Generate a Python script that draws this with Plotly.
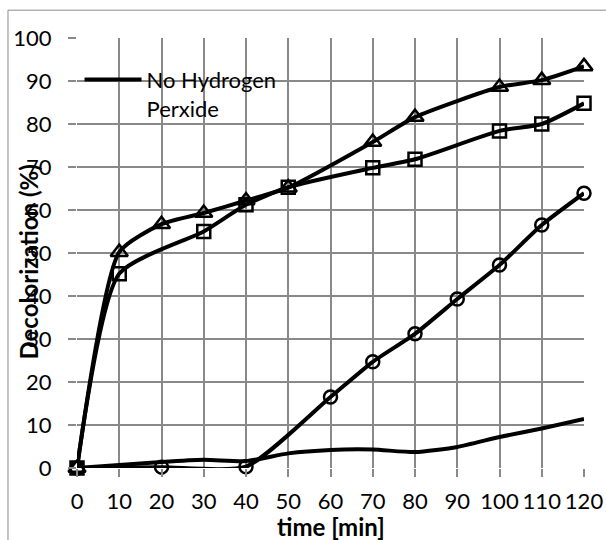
import plotly.graph_objects as go

# ---- data ----
t_all = [0, 10, 20, 30, 40, 50, 60, 70, 80, 90, 100, 110, 120]
no_peroxide = [0, 0.7, 1.4, 1.9, 1.6, 3.4, 4.2, 4.3, 3.7, 4.9, 7.2, 9.2, 11.4]

t_tri = [0, 10, 20, 30, 40, 50, 70, 80, 100, 110, 120]
tri_vals = [0, 50.2, 56.7, 59.3, 62.2, 65.2, 75.8, 81.6, 88.6, 90.2, 93.4]

t_sq = [0, 10, 30, 40, 50, 70, 80, 100, 110, 120]
sq_vals = [0, 45.2, 55.0, 61.2, 65.3, 69.8, 71.8, 78.4, 80.0, 84.8]

t_circ = [0, 20, 40, 60, 70, 80, 90, 100, 110, 120]
circ_vals = [0, 0.2, 0.3, 16.5, 24.7, 31.2, 39.3, 47.2, 56.5, 63.9]

x_ticks = [0, 10, 20, 30, 40, 50, 60, 70, 80, 90, 100, 110, 120]
y_ticks = [0, 10, 20, 30, 40, 50, 60, 70, 80, 90, 100]

FONT = "Lato"
GRID = "#898989"

fig = go.Figure()

line_style = dict(color="black", width=4, shape="spline", smoothing=0.6)

fig.add_trace(go.Scatter(x=t_all, y=no_peroxide, mode="lines", line=line_style,
                         name="No Hydrogen<br>Perxide", showlegend=True, cliponaxis=False))
fig.add_trace(go.Scatter(x=t_circ, y=circ_vals, mode="lines+markers", line=line_style,
                         marker=dict(symbol="circle-open", size=13, color="black",
                                     line=dict(width=2.5, color="black")),
                         showlegend=False, cliponaxis=False))
fig.add_trace(go.Scatter(x=t_sq, y=sq_vals, mode="lines+markers", line=line_style,
                         marker=dict(symbol="square-open", size=13, color="black",
                                     line=dict(width=2.5, color="black")),
                         showlegend=False, cliponaxis=False))
fig.add_trace(go.Scatter(x=t_tri, y=tri_vals, mode="lines+markers", line=line_style,
                         marker=dict(symbol="triangle-up-open", size=15, color="black",
                                     line=dict(width=2.5, color="black")),
                         showlegend=False, cliponaxis=False))

fig.update_layout(
    width=606, height=540,
    margin=dict(l=77, r=22, t=38, b=72, autoexpand=False),
    paper_bgcolor="white", plot_bgcolor="white",
    font=dict(family=FONT, size=22, color="black"),
    legend=dict(x=0.005, y=0.952, xanchor="left", yanchor="top",
                bgcolor="rgba(0,0,0,0)", font=dict(family=FONT, size=22),
                valign="top", tracegroupgap=0, itemwidth=57),
    xaxis=dict(range=[0, 120], tickvals=x_ticks, showgrid=True, gridcolor=GRID, gridwidth=1.5,
               zeroline=False, showline=False, ticks="outside", ticklen=8, tickwidth=1.5,
               tickcolor=GRID, ticklabelstandoff=6, automargin=False),
    yaxis=dict(range=[0, 100], tickvals=y_ticks, showgrid=True, gridcolor=GRID, gridwidth=1.5,
               zeroline=False, showline=False, ticks="outside", ticklen=8, tickwidth=1.5,
               tickcolor=GRID, ticklabelstandoff=12, automargin=False),
    annotations=[
        dict(text="<b>Decolorization (%)</b>", textangle=-90, xref="paper", yref="paper",
             x=-0.0947, y=0.48, xanchor="center", yanchor="middle", showarrow=False,
             font=dict(family=FONT, size=24, color="black")),
        dict(text="<b>time [min]</b>", xref="paper", yref="paper",
             x=0.5, y=-0.137, xanchor="center", yanchor="middle", showarrow=False,
             font=dict(family=FONT, size=24, color="black")),
    ],
    shapes=[dict(type="rect", xref="paper", yref="paper",
                 x0=-0.1361, x1=1.06, y0=-0.2, y1=1.0647,
                 line=dict(color="#8a8a8a", width=1), layer="below")],
)

fig.write_html("out.html")
